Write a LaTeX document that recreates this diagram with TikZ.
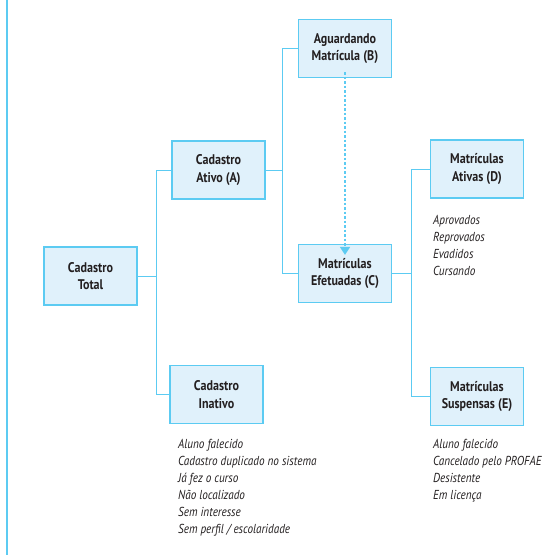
\documentclass[tikz,border=0pt]{standalone}
\usepackage{fontspec}
\setmainfont{PT Sans}[FakeStretch=0.86]
\usetikzlibrary{arrows.meta}
\definecolor{linecyan}{HTML}{5CCBF2}
\definecolor{boxfill}{HTML}{E0F1FB}
\definecolor{txt}{HTML}{231F20}
\tikzset{
  box/.style={draw=linecyan, line width=1.2pt, fill=boxfill, minimum width=93pt,
    minimum height=58pt, align=center, text=txt, inner sep=0pt,
    font=\bfseries\fontsize{14}{17.5}\selectfont},
  link/.style={draw=linecyan, line width=1pt},
  itemlist/.style={anchor=north west, align=left, inner sep=0pt, text=txt,
    font=\itshape\fontsize{13}{17}\selectfont},
  flowarrow/.style={draw=linecyan, line width=1.6pt, dash pattern=on 2.5pt off 2pt,
    -{Triangle[width=10pt,length=8pt,fill=linecyan]}}
}
\begin{document}
\begin{tikzpicture}[x=1pt,y=-1pt]
  \useasboundingbox (0,0) rectangle (557,555);
  % margin rule
  \draw[linecyan, line width=2pt] (7,0) -- (7,555);

  % boxes
  \node[box] (total)   at (90.5,276)   {Cadastro\\Total};
  \node[box] (ativo)   at (218.5,170)  {Cadastro\\Ativo (A)};
  \node[box] (inativo) at (216.5,394.5){Cadastro\\Inativo};
  \node[box] (aguard)  at (345,48.5)   {Aguardando\\Matrícula (B)};
  \node[box] (efet)    at (345,273.5)  {Matrículas\\Efetuadas (C)};
  \node[box] (mativ)   at (477,169)    {Matrículas\\Ativas (D)};
  \node[box] (msusp)   at (477,396.5)  {Matrículas\\Suspensas (E)};

  % branch points
  \coordinate (j1) at (156,276);
  \coordinate (j2) at (282,170);
  \coordinate (j3) at (411,273.5);

  % tree connectors
  \draw[link] (total.east) -- (j1);
  \draw[link] (ativo.west) -- (j1 |- ativo.west) -- (j1 |- inativo.west) -- (inativo.west);
  \draw[link] (ativo.east) -- (j2);
  \draw[link] (aguard.west) -- (j2 |- aguard.west) -- (j2 |- efet.west) -- (efet.west);
  \draw[link] (efet.east) -- (j3);
  \draw[link] (mativ.west) -- (j3 |- mativ.west) -- (j3 |- msusp.west) -- (msusp.west);

  % transition from B to C
  \draw[flowarrow] ([yshift=6pt]aguard.south) -- ([yshift=-11pt]efet.north);

  % item lists
  \node[itemlist] (listD) at (433,215) {Aprovados\\Reprovados\\Evadidos\\Cursando};
  \node[itemlist] (listI) at (178,439) {Aluno falecido\\Cadastro duplicado no sistema\\Já fez o curso\\Não localizado\\Sem interesse\\Sem perfil / escolaridade};
  \node[itemlist] (listE) at (433,439) {Aluno falecido\\Cancelado pelo PROFAE\\Desistente\\Em licença};
\end{tikzpicture}
\end{document}
